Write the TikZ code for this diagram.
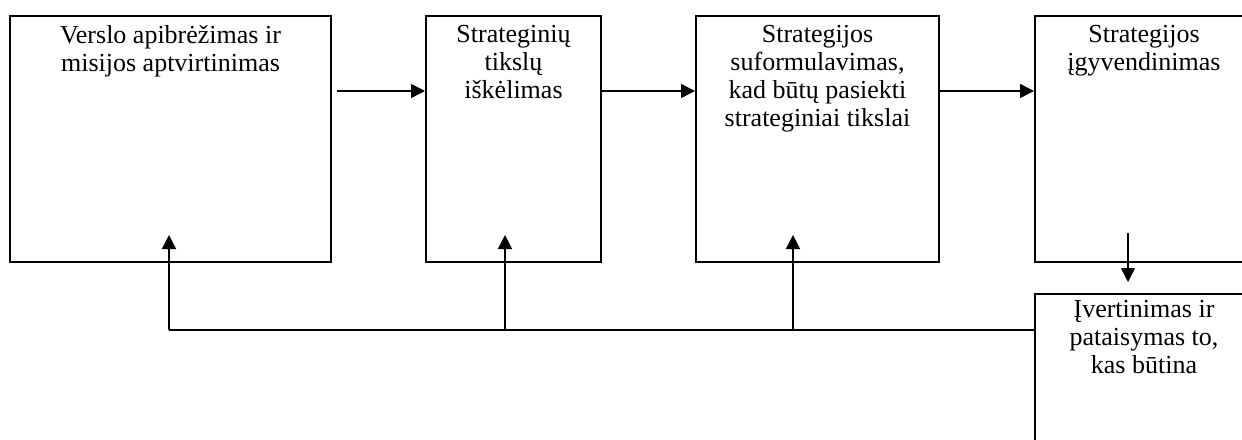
\documentclass[tikz,border=0pt]{standalone}
\usepackage{fontspec}
\setmainfont{Liberation Serif}
\usetikzlibrary{arrows.meta}
\begin{document}
\begin{tikzpicture}[x=1pt,y=-1pt,
  box/.style={draw,line width=2pt,anchor=north west,inner sep=0pt},
  txt/.style={anchor=north,align=center,inner sep=0pt,font=\fontsize{26}{28}\selectfont},
  arr/.style={line width=1.5pt,-{Triangle[length=14pt,width=14pt]}},
  ln/.style={line width=1.5pt}]
\clip (0,0) rectangle (1242,439);
% boxes
\node[box,minimum width=321pt,minimum height=246pt] (b1) at (9,15) {};
\node[box,minimum width=175pt,minimum height=246pt] (b2) at (425,15) {};
\node[box,minimum width=243pt,minimum height=246pt] (b3) at (695,15) {};
\node[box,minimum width=218pt,minimum height=246pt] (b4) at (1034,15) {};
\node[box,minimum width=218pt,minimum height=200pt] (b5) at (1034,293) {};
% texts
\node[txt] (t1) at ([yshift=-10pt]b1.north) {Verslo apibrėžimas ir\\misijos aptvirtinimas};
\node[txt] (t2) at ([yshift=-10pt]b2.north) {Strateginių\\tikslų\\iškėlimas};
\node[txt] (t3) at ([yshift=-10pt]b3.north) {Strategijos\\suformulavimas,\\kad būtų pasiekti\\strateginiai tikslai};
\node[txt] (t4) at ([yshift=-10pt]b4.north) {Strategijos\\įgyvendinimas};
\node[txt] (t5) at ([yshift=-7pt]b5.north) {Įvertinimas ir\\pataisymas to,\\kas būtina};
% forward arrows
\coordinate (a1) at (337,91);
\coordinate (a2) at (600,91);
\coordinate (a3) at (938,91);
\draw[arr] (a1) -- (b2.west |- a1);
\draw[arr] (b2.east |- a2) -- (b3.west |- a2);
\draw[arr] (b3.east |- a3) -- (b4.west |- a3);
% down arrow
\coordinate (d1) at (1128,233);
\coordinate (d2) at (1128,282);
\draw[arr] (d1) -- (d2);
% feedback
\coordinate (f1) at (169,330);
\coordinate (f2) at (505,330);
\coordinate (f3) at (793,330);
\coordinate (u1) at (169,235);
\coordinate (u2) at (505,235);
\coordinate (u3) at (793,235);
\draw[ln] (f1) -- (b5.west |- f1);
\draw[arr] (f1) -- (u1);
\draw[arr] (f2) -- (u2);
\draw[arr] (f3) -- (u3);
\end{tikzpicture}
\end{document}
